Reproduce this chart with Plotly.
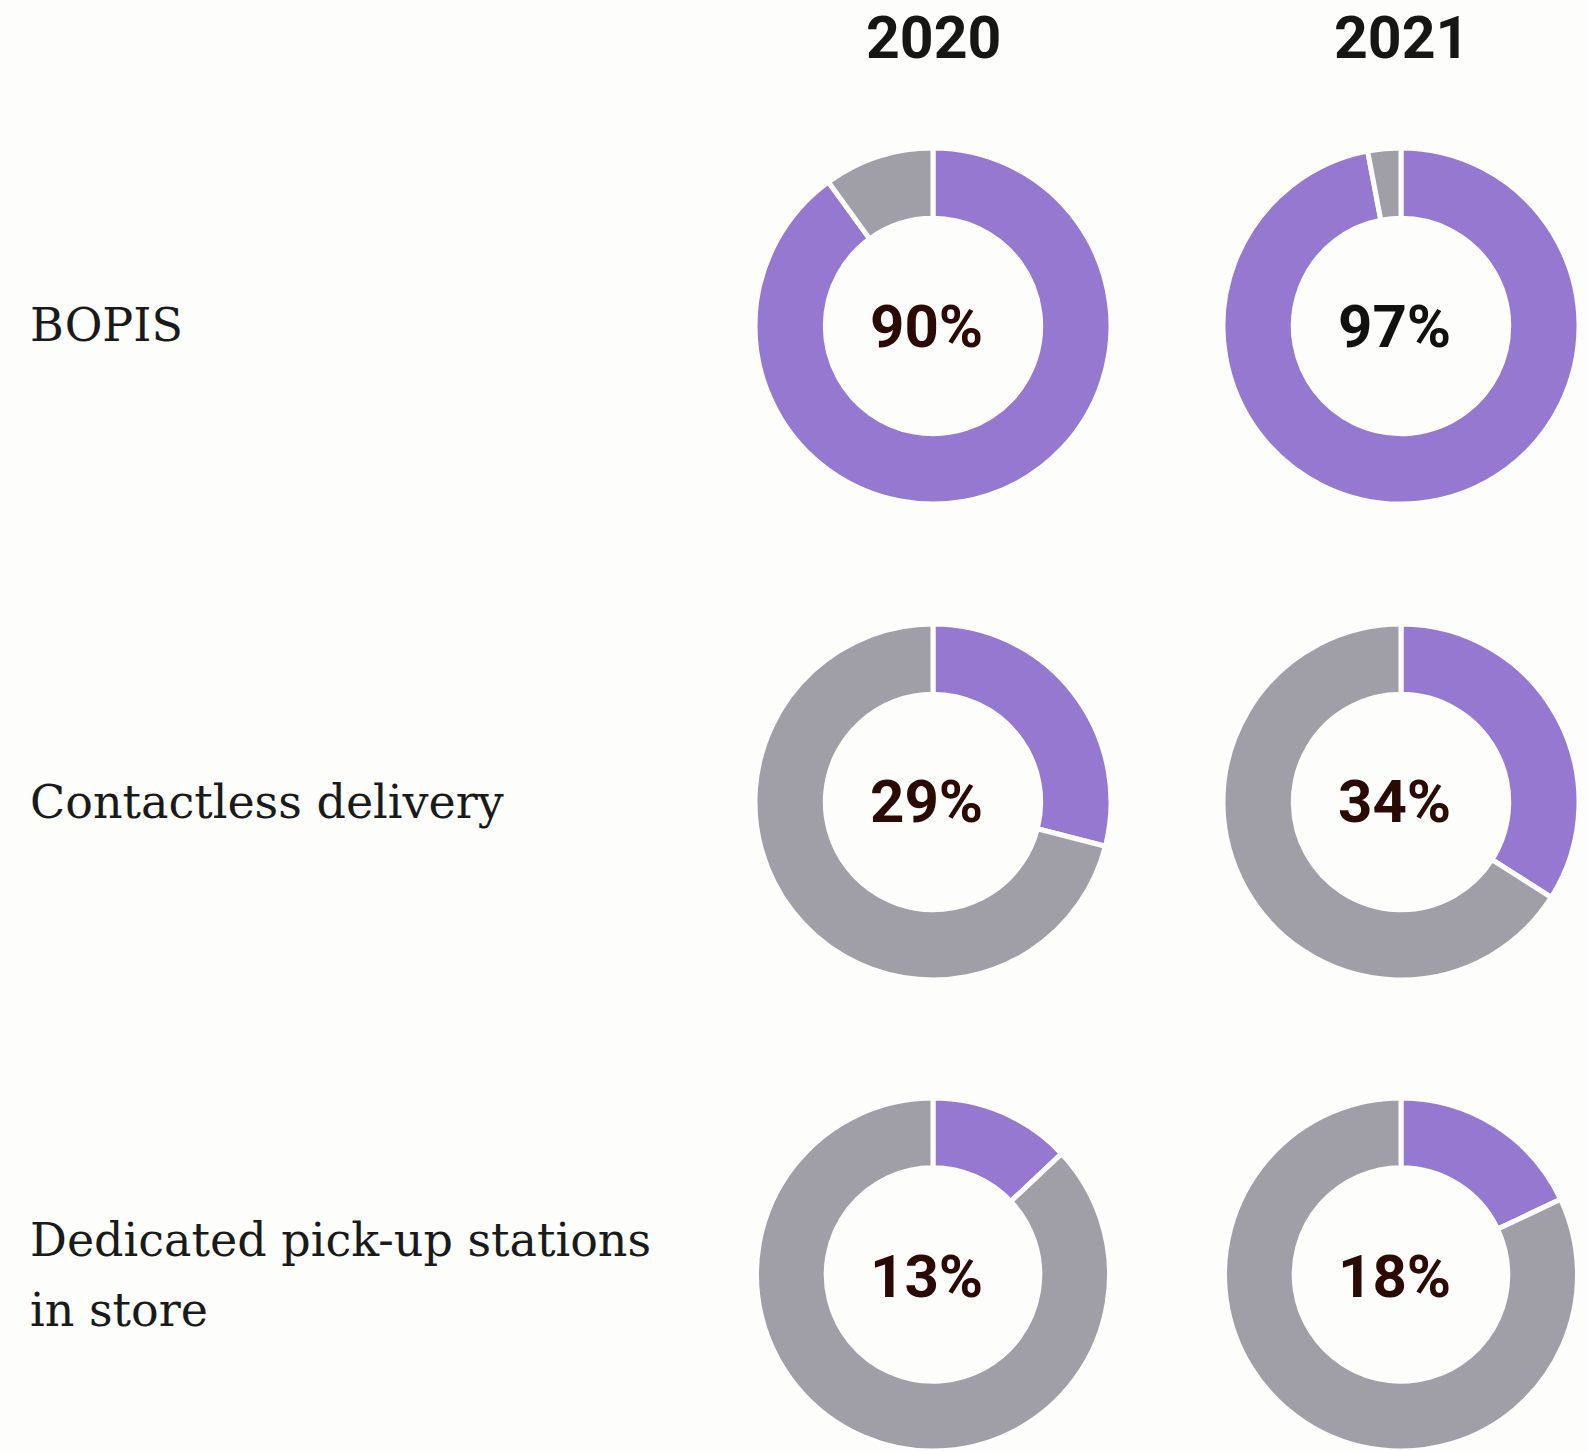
import plotly.graph_objects as go

# Survey data: share of retailers offering each fulfilment option
options = ["BOPIS", "Contactless delivery", "Dedicated pick-up stations<br>in store"]
years = ["2020", "2021"]
share_2020 = [90, 29, 13]
share_2021 = [97, 34, 18]

PURPLE = "#9578D0"
GREY = "#A09FA8"
BG = "#FDFDFB"

W, H = 1588, 1451
col_cx = [933, 1401]
row_cy = [326, 802, 1276]
R = 178

fig = go.Figure()

values_by_year = [share_2020, share_2021]
pct_colors = [["#2B0A05", "#2B0A05", "#2B0A05"], ["#111111", "#2B0A05", "#2B0A05"]]

for ci, (cx, vals) in enumerate(zip(col_cx, values_by_year)):
    for ri, (cy, v) in enumerate(zip(row_cy, vals)):
        fig.add_trace(go.Pie(
            values=[v, 100 - v],
            labels=["Yes", "No"],
            sort=False,
            direction="clockwise",
            rotation=0,
            hole=0.605,
            marker=dict(colors=[PURPLE, GREY], line=dict(color=BG, width=5)),
            textinfo="none",
            hoverinfo="skip",
            showlegend=False,
            domain=dict(x=[(cx - R) / W, (cx + R) / W],
                        y=[max(0, (H - cy - R) / H), min(1, (H - cy + R) / H)]),
        ))
        fig.add_annotation(
            x=(cx - 7) / W, y=(H - cy) / H, xref="paper", yref="paper",
            text=f"{v}%", showarrow=False, xanchor="center", yanchor="middle",
            font=dict(family="Roboto", size=60, color=pct_colors[ci][ri], weight=700),
        )

# Column headers
for cx, yr in zip(col_cx, years):
    fig.add_annotation(
        x=cx / W, y=(H - 37) / H, xref="paper", yref="paper",
        text=yr, showarrow=False, xanchor="center", yanchor="middle",
        font=dict(family="Roboto", size=59, color="#161616", weight=700),
    )

# Row labels
label_font = dict(family="DejaVu Serif", size=46, color="#1A1A1A")
fig.add_annotation(x=28 / W, y=(H - 325) / H, xref="paper", yref="paper",
                   text=options[0], showarrow=False, xanchor="left", yanchor="middle",
                   font=label_font)
fig.add_annotation(x=28 / W, y=(H - 802) / H, xref="paper", yref="paper",
                   text=options[1], showarrow=False, xanchor="left", yanchor="middle",
                   font=label_font)
for line, y in zip(options[2].split("<br>"), [1240, 1310]):
    fig.add_annotation(x=28 / W, y=(H - y) / H, xref="paper", yref="paper",
                       text=line, showarrow=False, xanchor="left", yanchor="middle",
                       font=label_font)

fig.update_layout(
    width=W, height=H,
    margin=dict(l=0, r=0, t=0, b=0),
    paper_bgcolor=BG, plot_bgcolor=BG,
)

fig.write_html("out.html")
